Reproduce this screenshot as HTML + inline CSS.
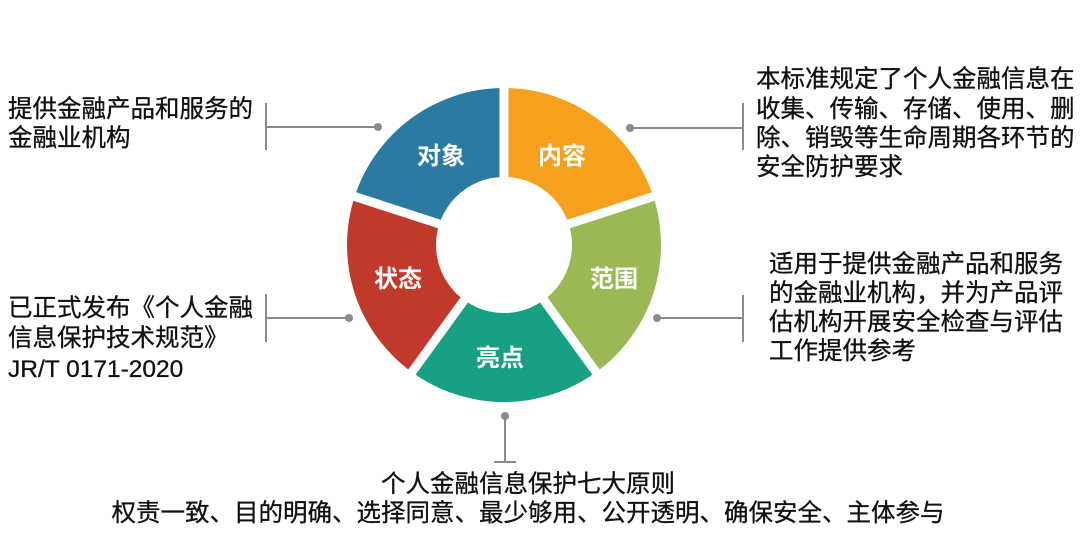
<!DOCTYPE html>
<html><head><meta charset="utf-8"><style>
html,body{margin:0;padding:0;background:#fff;}
svg{display:block;}
text{font-family:"Liberation Sans","Noto Sans CJK SC",sans-serif;}
.t{font-size:24.5px;fill:#111;stroke:#111;stroke-width:0.3;}
.w{font-size:24px;fill:#fff;font-weight:bold;}
</style></head><body>
<svg width="1080" height="537" viewBox="0 0 1080 537" xmlns="http://www.w3.org/2000/svg">
<path d="M504 245 L354.7 196.5 A157 157 0 0 1 504 88 Z" fill="#2a7aa2"/>
<path d="M504 245 L504 88 A157 157 0 0 1 653.3 196.5 Z" fill="#f5a11e"/>
<path d="M504 245 L653.3 196.5 A157 157 0 0 1 596.3 372 Z" fill="#9ab853"/>
<path d="M504 245 L596.3 372 A157 157 0 0 1 411.7 372 Z" fill="#17a084"/>
<path d="M504 245 L411.7 372 A157 157 0 0 1 354.7 196.5 Z" fill="#c0392b"/>
<g stroke="#fff" stroke-width="9">
<line x1="504" y1="245" x2="504" y2="80"/>
<line x1="504" y1="245" x2="661" y2="194"/>
<line x1="504" y1="245" x2="601" y2="379"/>
<line x1="504" y1="245" x2="407" y2="379"/>
<line x1="504" y1="245" x2="347" y2="194"/>
</g>
<circle cx="504" cy="245" r="68" fill="#fff"/>
<text class="w" x="441" y="164" text-anchor="middle">对象</text>
<text class="w" x="562" y="164" text-anchor="middle">内容</text>
<text class="w" x="614" y="287" text-anchor="middle">范围</text>
<text class="w" x="500" y="366" text-anchor="middle">亮点</text>
<text class="w" x="398" y="287" text-anchor="middle">状态</text>
<g stroke="#8a8a8a" stroke-width="2" fill="none">
<line x1="266" y1="103" x2="266" y2="150"/><line x1="266" y1="127" x2="378" y2="127"/>
<line x1="266" y1="294" x2="266" y2="342"/><line x1="266" y1="318" x2="349" y2="318"/>
<line x1="743" y1="103" x2="743" y2="150"/><line x1="630" y1="128" x2="743" y2="128"/>
<line x1="743" y1="295" x2="743" y2="342"/><line x1="657" y1="318" x2="743" y2="318"/>
<line x1="505" y1="416" x2="505" y2="462"/><line x1="494" y1="462" x2="516" y2="462"/>
</g>
<g fill="#8a8a8a">
<circle cx="378" cy="127" r="4"/><circle cx="349" cy="318" r="4"/>
<circle cx="630" cy="128" r="4"/><circle cx="657" cy="318" r="4"/>
<circle cx="505" cy="416" r="4"/>
</g>
<text class="t" x="8" y="117">提供金融产品和服务的</text>
<text class="t" x="8" y="146">金融业机构</text>
<text class="t" x="8" y="316">已正式发布《个人金融</text>
<text class="t" x="8" y="346">信息保护技术规范》</text>
<text class="t" x="8" y="377">JR/T 0171-2020</text>
<text class="t" x="756" y="87">本标准规定了个人金融信息在</text>
<text class="t" x="756" y="117">收集、传输、存储、使用、删</text>
<text class="t" x="756" y="146">除、销毁等生命周期各环节的</text>
<text class="t" x="756" y="175">安全防护要求</text>
<text class="t" x="769" y="272">适用于提供金融产品和服务</text>
<text class="t" x="769" y="301">的金融业机构，并为产品评</text>
<text class="t" x="769" y="330">估机构开展安全检查与评估</text>
<text class="t" x="769" y="359">工作提供参考</text>
<text class="t" x="528" y="492" text-anchor="middle">个人金融信息保护七大原则</text>
<text class="t" x="528" y="521" text-anchor="middle">权责一致、目的明确、选择同意、最少够用、公开透明、确保安全、主体参与</text>
</svg>
</body></html>
